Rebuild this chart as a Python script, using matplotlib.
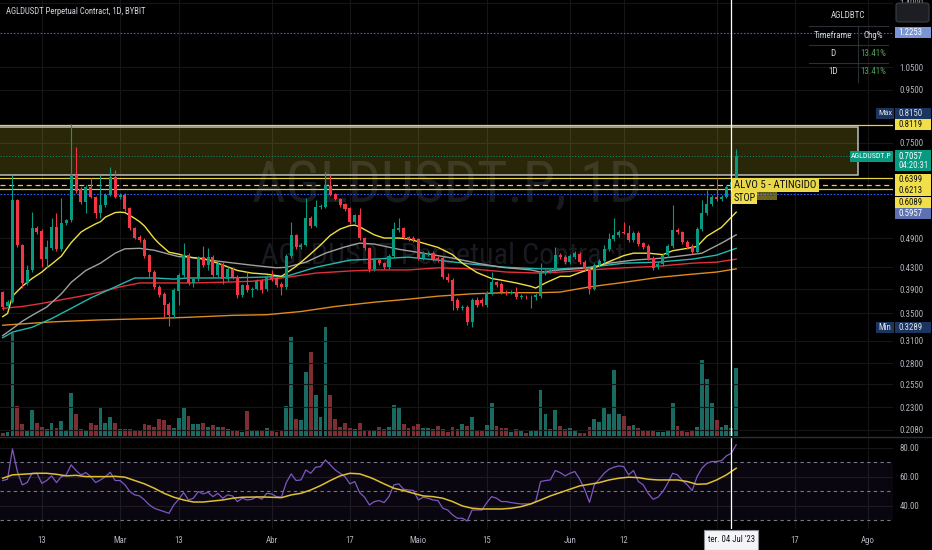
import numpy as np
import pandas as pd
import matplotlib
matplotlib.use("Agg")
import matplotlib.pyplot as plt
import matplotlib.dates as mdates
from matplotlib.patches import Rectangle, FancyBboxPatch
from matplotlib.lines import Line2D
from matplotlib.ticker import NullLocator, FixedLocator, FixedFormatter
from matplotlib import font_manager

_names = {f.name for f in font_manager.fontManager.ttflist}
_cands = ['Liberation Sans Narrow', 'DejaVu Sans Condensed', 'Roboto Condensed', 'Roboto', 'DejaVu Sans']
FAM = [f for f in _cands if f in _names] or ['DejaVu Sans']
plt.rcParams['font.family'] = FAM
if FAM[0] == 'DejaVu Sans':
    plt.rcParams['font.stretch'] = 'condensed'

# ---------------- data ----------------
start_date = '2023-02-05'
opens = [.385, .361, .368, .581, .475, .401, .425, .512, .506, .446, .468, .514, .466, .524, .531, .649, .610, .576, .615, .589,
         .548, .568, .594, .643, .589, .594, .560, .512, .492, .486, .454, .421, .393, .381, .365, .347, .386, .415, .454, .401,
         .408, .450, .434, .450, .415, .436, .408, .427, .411, .380, .397, .388, .391, .404, .390, .411, .410, .399, .393, .452,
         .497, .471, .475, .536, .517, .563, .563, .618, .596, .583, .570, .560, .526, .543, .490, .468, .427, .444, .438, .430,
         .452, .508, .512, .492, .490, .488, .448, .456, .458, .448, .448, .411, .406, .372, .358, .360, .337, .372, .372, .363,
         .383, .402, .399, .385, .383, .385, .377, .377, .376, .377, .378, .419, .423, .425, .454, .450, .440, .450, .456, .440,
         .427, .391, .434, .442, .466, .488, .497, .503, .501, .486, .501, .479, .473, .448, .430, .436, .454, .473, .508, .503,
         .482, .473, .460, .510, .548, .570, .589, .583, .589, .615, .629]
highs = [.387, .371, .649, .584, .478, .434, .550, .516, .510, .486, .536, .548, .586, .534, .815, .735, .615, .620, .640, .592,
         .649, .598, .673, .664, .598, .598, .563, .515, .497, .489, .457, .425, .397, .385, .369, .392, .420, .479, .458, .411,
         .453, .473, .468, .454, .440, .440, .431, .430, .415, .400, .421, .394, .408, .408, .415, .425, .413, .402, .456, .526,
         .500, .480, .586, .540, .581, .570, .658, .649, .600, .587, .574, .563, .546, .560, .493, .471, .448, .448, .441, .456,
         .526, .536, .515, .495, .494, .491, .462, .462, .462, .452, .452, .419, .410, .375, .363, .363, .375, .376, .375, .386,
         .421, .405, .402, .388, .388, .393, .381, .380, .380, .383, .438, .427, .429, .471, .458, .454, .456, .462, .460, .444,
         .431, .438, .446, .475, .501, .536, .508, .526, .519, .505, .505, .482, .477, .452, .440, .458, .477, .568, .512, .506,
         .486, .477, .514, .581, .607, .594, .640, .594, .620, .640, .729]
lows = [.356, .358, .366, .470, .392, .397, .422, .500, .430, .430, .465, .462, .462, .520, .527, .600, .570, .548, .585, .536,
        .536, .563, .590, .585, .584, .553, .508, .487, .482, .448, .411, .390, .376, .344, .331, .343, .363, .412, .398, .393,
        .405, .430, .425, .412, .412, .400, .404, .408, .375, .376, .385, .376, .388, .383, .386, .405, .393, .380, .390, .448,
        .467, .466, .472, .512, .514, .558, .560, .590, .580, .563, .553, .522, .522, .486, .465, .422, .423, .434, .426, .427,
        .449, .504, .487, .484, .482, .444, .444, .452, .442, .440, .408, .402, .355, .355, .355, .332, .3289, .360, .362, .360,
        .380, .394, .382, .380, .381, .374, .374, .373, .358, .372, .375, .416, .420, .422, .446, .436, .436, .446, .436, .423,
        .382, .388, .430, .438, .462, .484, .492, .498, .482, .482, .473, .467, .444, .424, .426, .432, .450, .469, .499, .478,
        .467, .456, .456, .506, .544, .566, .578, .578, .585, .610, .625]
closes = [.360, .368, .581, .475, .401, .425, .512, .503, .446, .471, .514, .466, .524, .531, .649, .604, .576, .615, .589, .548,
          .568, .594, .643, .589, .594, .558, .512, .490, .486, .452, .421, .393, .380, .363, .347, .388, .415, .454, .401, .408,
          .450, .434, .450, .415, .436, .408, .427, .411, .380, .397, .388, .391, .404, .388, .411, .408, .397, .393, .452, .497,
          .471, .475, .536, .517, .563, .566, .621, .594, .583, .568, .558, .526, .543, .490, .468, .427, .444, .438, .430, .452,
          .510, .512, .490, .488, .486, .448, .458, .458, .446, .444, .411, .406, .370, .358, .360, .337, .372, .363, .366, .383,
          .402, .397, .385, .383, .385, .377, .378, .376, .377, .380, .421, .423, .425, .454, .450, .440, .452, .458, .440, .427,
          .391, .434, .442, .466, .488, .497, .503, .501, .486, .501, .477, .471, .448, .429, .436, .454, .473, .508, .503, .482,
          .471, .460, .510, .548, .570, .589, .583, .589, .615, .629, .7057]
volumes = [3, 4, 103, 30, 12, 6, 26, 13, 9, 7, 13, 8, 15, 5, 43, 22, 7, 6, 13, 11,
           28, 13, 19, 13, 7, 7, 7, 5, 6, 12, 11, 9, 17, 16, 11, 8, 18, 29, 20, 12,
           12, 13, 9, 11, 9, 9, 7, 6, 6, 4, 25, 6, 5, 6, 8, 5, 4, 5, 30, 99,
           17, 16, 64, 84, 41, 19, 109, 41, 17, 9, 13, 8, 7, 13, 5, 6, 6, 9, 7, 9,
           31, 29, 12, 8, 10, 12, 8, 8, 7, 10, 7, 4, 9, 7, 12, 10, 19, 6, 6, 11,
           33, 10, 8, 8, 4, 7, 6, 3, 6, 6, 46, 22, 7, 26, 10, 7, 8, 6, 3, 3,
           9, 17, 14, 28, 22, 66, 22, 20, 10, 11, 8, 5, 5, 5, 4, 4, 6, 33, 10, 5,
           4, 5, 9, 76, 57, 33, 16, 9, 11, 8, 68]

rsi = [57.4, 58.3, 79.2, 63.6, 54.4, 56.0, 62.4, 62.4, 55.5, 57.4, 60.6, 56.0, 60.1, 61.3, 68.2, 64.3, 61.3, 62.9, 60.1, 56.0,
       57.8, 60.1, 63.1, 57.4, 57.4, 54.4, 49.8, 47.5, 46.8, 44.0, 40.6, 38.3, 37.1, 36.0, 34.8, 40.6, 44.5, 49.1, 44.0, 45.2,
       49.8, 48.2, 49.3, 46.3, 48.6, 45.2, 47.5, 46.8, 42.9, 45.2, 44.0, 44.5, 46.3, 44.5, 48.6, 48.2, 46.3, 45.9, 56.0, 62.0,
       57.4, 57.8, 64.7, 62.4, 66.6, 67.0, 71.6, 68.2, 64.7, 62.4, 60.1, 55.1, 56.7, 49.1, 45.9, 40.6, 42.9, 43.6, 42.2, 46.3,
       54.4, 55.1, 51.4, 50.9, 50.5, 44.0, 45.9, 45.2, 44.0, 43.6, 38.3, 37.1, 33.7, 31.4, 31.4, 29.5, 37.1, 37.1, 37.1, 42.2,
       46.3, 45.2, 42.9, 42.9, 42.2, 41.7, 41.3, 41.3, 41.3, 42.9, 56.7, 57.4, 57.8, 64.3, 62.9, 60.6, 62.4, 63.6, 58.3, 51.4,
       42.4, 54.4, 58.3, 62.4, 65.2, 66.6, 67.5, 67.0, 61.3, 64.3, 56.7, 54.4, 48.6, 44.5, 45.9, 49.8, 55.5, 62.4, 61.3, 57.4,
       54.4, 50.5, 60.1, 65.9, 69.3, 70.5, 70.5, 71.1, 74.4, 76.2, 82.0]
rsi_ma_idx = [0, 2, 4, 7, 9, 11, 13, 15, 17, 21, 23, 25, 27, 29, 31, 33, 35, 37, 39, 41, 43, 45, 47, 49, 53, 57, 59, 61, 63, 65,
              67, 69, 71, 73, 75, 76, 78, 80, 82, 84, 86, 88, 90, 92, 94, 96, 98, 102, 104, 106, 108, 110, 112, 114, 116, 118,
              120, 122, 124, 126, 128, 130, 132, 134, 138, 140, 142, 144, 146, 148, 150]
rsi_ma_vals = [59.0, 61.3, 61.7, 62.4, 62.4, 61.7, 60.6, 61.0, 60.1, 60.1, 60.3, 59.7, 57.4, 55.1, 52.1, 48.6, 45.9, 44.0, 42.6,
               42.6, 43.3, 44.0, 45.2, 45.9, 46.1, 45.6, 47.5, 48.6, 50.9, 53.9, 57.4, 60.6, 62.4, 62.0, 59.7, 58.3, 55.1, 52.1,
               50.5, 48.6, 46.8, 46.3, 45.2, 42.9, 39.9, 38.3, 37.8, 37.8, 38.3, 39.4, 41.3, 44.0, 46.8, 49.1, 51.4, 53.7, 54.8,
               56.0, 57.8, 59.0, 59.7, 59.4, 58.3, 57.8, 57.8, 56.7, 54.8, 55.1, 57.8, 61.3, 65.9]

ma_yellow_idx = [0, 1, 2, 4, 6, 8, 9, 10, 12, 13, 14, 16, 17, 19, 20, 21, 23, 24, 25, 27, 28, 29, 31, 32, 34, 36, 38, 41, 44, 48,
                 51, 54, 57, 58, 60, 62, 65, 67, 69, 71, 72, 73, 76, 78, 81, 83, 86, 89, 92, 94, 97, 100, 102, 105, 108, 109,
                 111, 114, 116, 118, 121, 124, 127, 129, 132, 135, 137, 140, 142, 144, 147, 150]
ma_yellow = [.345, .350, .378, .395, .409, .421, .429, .436, .452, .466, .480, .503, .510, .522, .527, .538, .549, .550, .549,
             .535, .527, .517, .489, .478, .460, .456, .450, .447, .438, .424, .419, .417, .413, .419, .432, .448, .475, .496,
             .510, .518, .519, .515, .497, .490, .490, .488, .479, .470, .455, .438, .420, .409, .406, .401, .395, .392, .401,
             .413, .413, .420, .429, .441, .453, .458, .458, .455, .463, .468, .472, .494, .514, .550]
ma_gray_idx = [0, 2, 4, 6, 9, 12, 14, 17, 20, 23, 25, 28, 31, 34, 36, 38, 44, 51, 56, 58, 62, 66, 70, 73, 76, 81, 86, 92, 97,
               102, 108, 110, 114, 120, 124, 129, 135, 140, 143, 147, 150]
ma_gray = [.317, .327, .338, .347, .360, .382, .402, .424, .438, .458, .467, .468, .464, .456, .451, .450, .442, .434, .429,
           .430, .440, .458, .471, .479, .477, .466, .458, .448, .438, .430, .425, .421, .425, .429, .438, .444, .448, .454,
           .458, .479, .497]
ma_teal_idx = [0, 2, 6, 10, 14, 18, 23, 27, 31, 35, 38, 44, 51, 58, 64, 71, 76, 83, 89, 96, 103, 110, 114, 120, 127, 134, 141,
               146, 150]
ma_teal = [.314, .322, .329, .342, .358, .375, .394, .410, .410, .408, .410, .410, .411, .413, .430, .444, .446, .450, .444,
           .436, .430, .427, .427, .430, .438, .440, .446, .454, .468]
ma_red_idx = [0, 4, 8, 12, 16, 20, 24, 28, 32, 38, 44, 51, 58, 64, 71, 76, 83, 89, 96, 103, 110, 114, 120, 127, 134, 141, 146, 150]
ma_red = [.358, .361, .366, .372, .378, .385, .394, .401, .401, .401, .402, .404, .411, .419, .423, .425, .425, .429, .427,
          .421, .419, .421, .425, .429, .432, .438, .440, .446]
ma_orange_idx = [0, 10, 20, 30, 38, 47, 54, 61, 68, 76, 83, 89, 96, 103, 110, 114, 120, 127, 134, 141, 146, 150]
ma_orange = [.332, .337, .340, .342, .344, .347, .348, .353, .361, .368, .373, .378, .382, .384, .384, .385, .394, .402, .411,
             .417, .421, .427]

price_ticks = [1.40, 1.05, 0.95, 0.75, 0.49, 0.43, 0.39, 0.35, 0.31, 0.28, 0.255, 0.23, 0.208]
rsi_ticks = [80, 60, 40]
date_ticks = ['2023-02-13', '2023-03-01', '2023-03-13', '2023-04-01', '2023-04-17', '2023-05-01', '2023-05-15',
              '2023-06-01', '2023-06-12', '2023-07-01', '2023-07-17', '2023-08-01']
date_tick_labels = ['13', 'Mar', '13', 'Abr', '17', 'Maio', '15', 'Jun', '12', '', '17', 'Ago']

level_blue_top = 1.2253
level_max = 0.8150
level_min = 0.3289
level_target = 0.8119
level_1 = 0.6399
level_2 = 0.6213
level_3 = 0.6089
level_stop = 0.5957
last_price = 0.7057
box_low, box_high = 0.649, 0.805
box_end_date = '2023-07-30'
cross_date = '2023-07-04'

# ---------------- figure ----------------
W, H = 932, 550
BG = '#000000'
UP, DN = '#089981', '#f23645'
VUP, VDN = '#1a6a62', '#7e2d33'
TXT = '#b2b5be'
YEL = '#e3d23c'
YTAG = '#f0df48'
GRID = '#151515'

fig = plt.figure(figsize=(W / 100, H / 100), dpi=100, facecolor=BG)
renderer = fig.canvas.get_renderer()


def fit(t, target_w, max_fs=None):
    bb = t.get_window_extent(renderer)
    if bb.width > 0:
        fs = t.get_fontsize() * target_w / bb.width
        if max_fs is not None:
            fs = min(fs, max_fs)
        t.set_fontsize(fs)
    return t


def frect(x0, y0, x1, y1):
    return [x0 / W, 1 - y1 / H, (x1 - x0) / W, (y1 - y0) / H]


axv = fig.add_axes(frect(0, 0, 893, 436))
ax = fig.add_axes(frect(0, 0, 893, 436), sharex=axv)
axr = fig.add_axes(frect(0, 437, 893, 529), sharex=axv)
axv.set_facecolor(BG)
ax.set_facecolor('none')
axr.set_facecolor(BG)
for a in (ax, axv, axr):
    for s in a.spines.values():
        s.set_visible(False)

o = np.array(opens); h = np.array(highs); l = np.array(lows); c = np.array(closes)
n = len(c)
dates = pd.date_range(start_date, periods=n, freq='D')
xd = mdates.date2num(dates.values)
up = c >= o
ccol = np.where(up, UP, DN)
vcol = np.where(up, VUP, VDN)

xlo, xhi = xd[0] - 0.55, xd[0] + 182.07
axv.set_xlim(xlo, xhi)
tick_x = mdates.date2num(pd.to_datetime(date_ticks).values)

# volume
axv.bar(xd, volumes, width=0.78, color=vcol, linewidth=0, zorder=2)
axv.set_ylim(0, max(volumes) * 4.0)
axv.tick_params(left=False, labelleft=False, bottom=False, labelbottom=False)
for tx in tick_x:
    axv.axvline(tx, color=GRID, lw=0.8, zorder=0)

# price pane
ax.set_yscale('log')
ax.set_ylim(0.2025, 1.418)
ax.yaxis.set_major_locator(FixedLocator(price_ticks))
ax.yaxis.set_major_formatter(FixedFormatter(['%.4f' % v for v in price_ticks]))
ax.yaxis.set_minor_locator(NullLocator())
ax.yaxis.tick_right()
ax.tick_params(axis='y', length=0, pad=4.5, labelsize=6.3, labelcolor=TXT)
ax.tick_params(axis='x', length=0, labelbottom=False)
for pv in price_ticks:
    ax.axhline(pv, color=GRID, lw=0.8, zorder=0)

# watermarks
wm1 = ax.text(447 / 893, 1 - 186 / 436, 'AGLDUSDT.P, 1D', transform=ax.transAxes, fontsize=40,
              color='#181a20', ha='center', va='center', zorder=0.5)
fit(wm1, 390)
wm2 = ax.text(443 / 893, 1 - 256 / 436, 'AGLDUSDT Perpetual Contract', transform=ax.transAxes, fontsize=20,
              color='#181a20', ha='center', va='center', zorder=0.5)
fit(wm2, 363)

# box zone
bx1 = mdates.date2num(pd.Timestamp(box_end_date))
ax.add_patch(Rectangle((xlo - 5, box_low), bx1 - (xlo - 5), box_high - box_low,
                       facecolor=(1.0, 0.92, 0.23, 0.17), edgecolor='#bdbdbd', lw=1.1, zorder=1))

# horizontal levels
ax.axhline(level_blue_top, color='#2962ff', ls=(0, (1.5, 1.5)), lw=0.8, zorder=1.2)
ax.axhline(level_target, color=YEL, lw=0.9, zorder=1.2)
ax.axhline(level_1, color=YEL, lw=0.9, zorder=1.2)
ax.axhline(level_2, color=YEL, lw=0.9, ls=(0, (4, 3)), zorder=1.2)
ax.axhline(level_3, color=YEL, lw=0.9, zorder=1.2)
ax.axhline(level_stop, color='#2962ff', ls=(0, (1.5, 1.5)), lw=0.8, zorder=1.2)
ax.axhline(last_price, color=UP, ls=(0, (1, 2)), lw=0.7, zorder=1.2)

# moving averages
ax.plot(xd[ma_orange_idx], ma_orange, color='#e08a1e', lw=1.0, zorder=2)
ax.plot(xd[ma_red_idx], ma_red, color='#e0303a', lw=1.0, zorder=2)
ax.plot(xd[ma_teal_idx], ma_teal, color='#22b8b0', lw=1.0, zorder=2)
ax.plot(xd[ma_gray_idx], ma_gray, color='#a0a0a0', lw=1.0, zorder=2)
ax.plot(xd[ma_yellow_idx], ma_yellow, color='#f0e040', lw=1.0, zorder=2)

# candles
ax.vlines(xd, l, h, colors=ccol, lw=0.8, zorder=3)
ax.bar(xd, np.abs(c - o), bottom=np.minimum(o, c), width=0.62, color=ccol, linewidth=0, zorder=4)

# RSI pane
axr.set_ylim(24, 87.4)
axr.axhspan(30, 70, color='#7e57c2', alpha=0.08, lw=0, zorder=0.5)
for lv in (70, 50, 30):
    axr.axhline(lv, color='#787b86', lw=0.8, ls=(0, (3, 3)), zorder=1)
for tx in tick_x:
    axr.axvline(tx, color=GRID, lw=0.8, zorder=0.4)
for rv in rsi_ticks:
    axr.axhline(rv, color=GRID, lw=0.8, zorder=0.4)
axr.plot(xd, rsi, color='#7e57c2', lw=0.9, zorder=3)
axr.plot(xd[rsi_ma_idx], rsi_ma_vals, color='#e0c030', lw=1.1, zorder=3)
axr.yaxis.tick_right()
axr.set_yticks(rsi_ticks)
axr.set_yticklabels(['%.2f' % v for v in rsi_ticks])
axr.tick_params(axis='y', length=0, pad=4.5, labelsize=6.3, labelcolor=TXT)
axr.set_xticks(tick_x)
axr.set_xticklabels(date_tick_labels)
axr.tick_params(axis='x', length=0, pad=5, labelsize=6.3, labelcolor=TXT)

# crosshair
cx = mdates.date2num(pd.Timestamp(cross_date))
ax.axvline(cx, color='white', lw=0.9, zorder=10)
axr.axvline(cx, color='white', lw=0.9, zorder=10)

# separators
fig.add_artist(Line2D([0, 1], [1 - 436.5 / H] * 2, transform=fig.transFigure, color='#2a2e39', lw=1.0))


def ypx(price):
    return H - ax.transData.transform((xd[0], price))[1]


def xpx(xv):
    return ax.transData.transform((xv, 1.0))[0]


def tag(x0, x1, yc, hh, bg, txt, fc, fs=6.3, ha='left', tx=None, alpha=1.0, z=20, fitw=None):
    fig.add_artist(Rectangle((x0 / W, 1 - (yc + hh / 2) / H), (x1 - x0) / W, hh / H, transform=fig.transFigure,
                             facecolor=bg, edgecolor='none', zorder=z, alpha=alpha))
    if ha == 'left':
        xx = (tx if tx is not None else x0 + 3.5)
    else:
        xx = (x0 + x1) / 2
    t = fig.text(xx / W, 1 - yc / H, txt, color=fc, fontsize=fs, ha=ha, va='center', zorder=z + 1)
    t.set_alpha(alpha)
    if fitw is not None:
        fit(t, fitw, max_fs=fs)
    return t


NAVY = '#1b3560'
tag(895, 931, ypx(level_blue_top), 11, '#7a94d4', '%.4f' % level_blue_top, '#ffffff')
tag(876, 894, ypx(level_max) - 11, 11, NAVY, 'Máx', '#dfe3ea', ha='center', fitw=14)
tag(895, 931, ypx(level_max) - 11, 11, NAVY, '%.4f' % level_max, '#dfe3ea')
tag(895, 931, ypx(level_target), 11, YTAG, '%.4f' % level_target, '#111111')
# last price
yl = ypx(last_price)
fig.add_artist(Rectangle((895 / W, 1 - (yl + 15) / H), 36 / W, 21 / H, transform=fig.transFigure,
                         facecolor=UP, edgecolor='none', zorder=20))
fig.text(898.5 / W, 1 - yl / H, '%.4f' % last_price, color='white', fontsize=6.3, va='center', zorder=21)
fig.text(898.5 / W, 1 - (yl + 9.5) / H, '04:20:31', color='#e8f5f2', fontsize=6.3, va='center', zorder=21)
tag(850, 893, yl, 11, UP, 'AGLDUSDT.P', 'white', ha='center', fitw=40)
tag(895, 931, ypx(level_1) + 1, 11, YTAG, '%.4f' % level_1, '#111111')
tag(895, 931, ypx(level_2) + 6, 11, YTAG, '%.4f' % level_2, '#111111')
tag(895, 931, ypx(level_3) + 13, 11, YTAG, '%.4f' % level_3, '#111111')
tag(895, 931, ypx(level_stop) + 19.5, 11, '#5c71ae', '%.4f' % level_stop, '#ffffff')
tag(876, 894, ypx(level_min), 11, NAVY, 'Mín', '#dfe3ea', ha='center', fitw=14)
tag(895, 931, ypx(level_min), 11, NAVY, '%.4f' % level_min, '#dfe3ea')

# chart labels
lx = xpx(xd[-1]) - 4
tag(lx + 25, lx + 45, ypx(level_3) + 5.5, 10, YTAG, 'ENTRADA', '#111111', fs=6, alpha=0.45, z=15,
    ha='center', fitw=18)
tag(lx - 1, lx + 25, ypx(level_stop) + 4, 12, YTAG, 'STOP', '#111111', fs=8.5, z=16, tx=lx + 1, fitw=22)
tag(lx, lx + 87, ypx(level_2), 14, '#e8d84a', 'ALVO 5 - ATINGIDO', '#111111', fs=8.5, z=17, tx=lx + 2, fitw=83)

# title
tt = fig.text(6 / W, 1 - 11 / H, 'AGLDUSDT Perpetual Contract, 1D, BYBIT', color='#d1d4dc', fontsize=7,
              ha='left', va='center')
fit(tt, 142, max_fs=7)

# table
TL = '#2a2e39'
fig.text(848 / W, 1 - 16 / H, 'AGLDBTC', color='#d1d4dc', fontsize=6.5, ha='center', va='center')
for yy in (26, 45, 63):
    fig.add_artist(Line2D([809 / W, 888 / W], [1 - yy / H] * 2, transform=fig.transFigure, color=TL, lw=0.8))
fig.add_artist(Line2D([858 / W, 858 / W], [1 - 26 / H, 1 - 82 / H], transform=fig.transFigure, color=TL, lw=0.8))
rows = [('Timeframe', 'Chg%', '#d1d4dc'), ('D', '13.41%', '#4f9f5c'), ('1D', '13.41%', '#4f9f5c')]
for (a_, b_, colb), yy in zip(rows, (35, 53.5, 72)):
    fig.text(833 / W, 1 - yy / H, a_, color='#d1d4dc', fontsize=6.5, ha='center', va='center')
    fig.text(873 / W, 1 - yy / H, b_, color=colb, fontsize=6.5, ha='center', va='center')

# top-right button
fig.add_artist(FancyBboxPatch((896 / W, 1 - 22 / H), 33 / W, 19 / H, boxstyle='round,pad=0,rounding_size=0.004',
                              transform=fig.transFigure, facecolor='#1c1e24', edgecolor='#3b3e46', lw=0.8, zorder=25))

# date tooltip
cxp = xpx(cx)
fig.add_artist(Rectangle(((cxp - 27) / W, 0), 54 / W, 20 / H, transform=fig.transFigure,
                         facecolor='#f4f4f6', edgecolor='#8a8d96', lw=0.8, zorder=25))
tip = fig.text(cxp / W, 1 - 540 / H, "ter. 04 Jul '23", color='#131722', fontsize=6.3, ha='center', va='center', zorder=26)
fit(tip, 49, max_fs=6.3)

fig.savefig('out.png', dpi=100, facecolor=BG)
